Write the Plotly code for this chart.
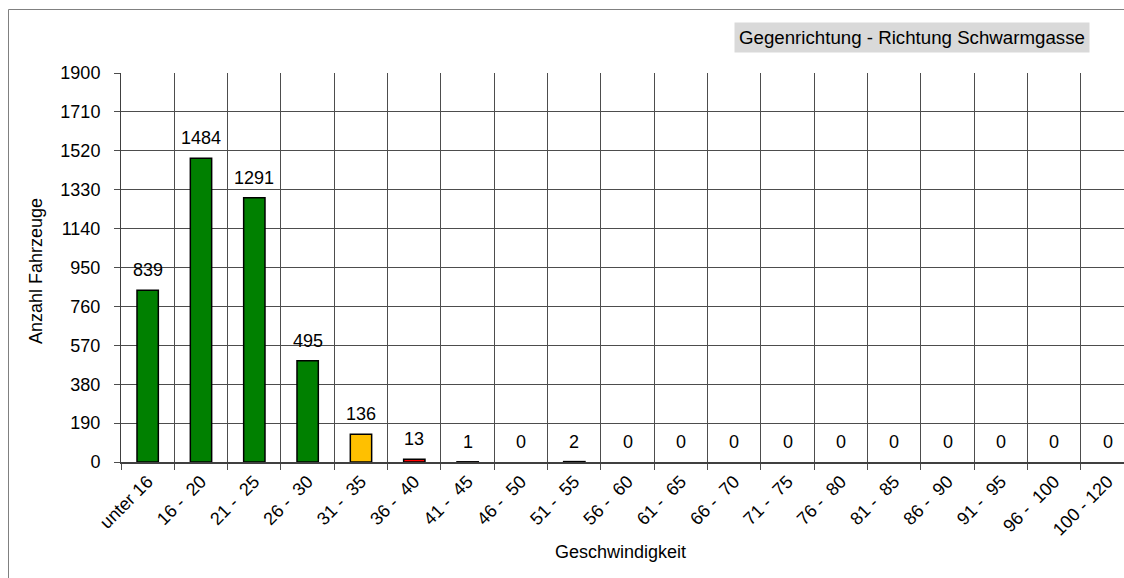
import plotly.graph_objects as go

categories = ["unter 16", "16 -  20", "21 -  25", "26 -  30", "31 -  35", "36 -  40",
              "41 -  45", "46 -  50", "51 -  55", "56 -  60", "61 -  65", "66 -  70",
              "71 -  75", "76 -  80", "81 -  85", "86 -  90", "91 -  95", "96 -  100",
              "100 - 120"]
values = [839, 1484, 1291, 495, 136, 13, 1, 0, 2, 0, 0, 0, 0, 0, 0, 0, 0, 0, 0]
bar_colors = ["#008000"] * 4 + ["#FFC000"] + ["#FF0000"] * 14
y_ticks = [0, 190, 380, 570, 760, 950, 1140, 1330, 1520, 1710, 1900]
title_text = "Gegenrichtung - Richtung Schwarmgasse"
x_title = "Geschwindigkeit"
y_title = "Anzahl Fahrzeuge"

cats = [c.replace("  ", " \u00a0") for c in categories]
line_widths = [1.5 if v > 0 else 0 for v in values]

W, H = 1124, 578
L, T = 121, 73
BOTTOM = 462
B = H - BOTTOM
R = 0
pw, ph = W - L - R, H - T - B
cat_px = 53.33

FONT = "Liberation Sans, Arial, sans-serif"
FS = 18

def px_x(x):  # pixel -> paper
    return (x - L) / pw

def px_y(y):
    return (BOTTOM - y) / ph

fig = go.Figure()
fig.add_trace(go.Bar(
    x=cats, y=values, width=0.4,
    marker=dict(color=bar_colors, line=dict(color="black", width=line_widths)),
    hoverinfo="x+y",
))

annotations = []
for c, v in zip(cats, values):
    annotations.append(dict(x=c, y=v, xref="x", yref="y", text=str(v), showarrow=False,
                            yanchor="middle", yshift=20, font=dict(size=FS, color="black", family=FONT)))

annotations.append(dict(x=px_x(912), y=px_y(37.5), xref="paper", yref="paper", text=title_text,
                        showarrow=False, bgcolor="#d9d9d9", borderpad=4,
                        font=dict(size=18.7, color="black", family=FONT), xanchor="center", yanchor="middle"))
annotations.append(dict(x=px_x(620), y=px_y(552), xref="paper", yref="paper", text=x_title,
                        showarrow=False, font=dict(size=FS, color="black", family=FONT),
                        xanchor="center", yanchor="middle"))
annotations.append(dict(x=px_x(36), y=px_y(271), xref="paper", yref="paper", text=y_title,
                        showarrow=False, textangle=-90, font=dict(size=FS, color="black", family=FONT),
                        xanchor="center", yanchor="middle"))

border = dict(color="#808080", width=1)
shapes = [
    dict(type="line", xref="paper", yref="paper", x0=px_x(8.5), x1=px_x(1124), y0=px_y(9.5), y1=px_y(9.5),
         line=border, layer="below"),
    dict(type="line", xref="paper", yref="paper", x0=px_x(8.5), x1=px_x(8.5), y0=px_y(9.5), y1=px_y(578),
         line=border, layer="below"),
]

fig.update_layout(
    width=W, height=H,
    margin=dict(l=L, r=R, t=T, b=B, pad=0),
    paper_bgcolor="white", plot_bgcolor="white",
    font=dict(family=FONT, size=FS, color="black"),
    showlegend=False,
    annotations=annotations,
    shapes=shapes,
    bargap=0.6,
)
fig.update_xaxes(
    type="category",
    range=[-0.5, -0.5 + pw / cat_px],
    tickson="boundaries",
    showgrid=True, gridcolor="#4d4d4d", gridwidth=1,
    ticks="outside", ticklen=6, tickcolor="#4d4d4d", tickwidth=1,
    tickangle=-45,
    tickfont=dict(size=FS, family=FONT, color="black"),
    showline=True, linecolor="#404040", linewidth=2,
    zeroline=False,
)
fig.update_yaxes(
    range=[0, 1900],
    tickvals=y_ticks,
    showgrid=True, gridcolor="#4d4d4d", gridwidth=1,
    ticks="outside", ticklen=6, tickcolor="#4d4d4d", tickwidth=1,
    tickfont=dict(size=FS, family=FONT, color="black"),
    ticklabelstandoff=10,
    showline=True, linecolor="#404040", linewidth=1,
    zeroline=False,
)

post = ("document.body.style.margin='0';document.body.style.padding='0';"
        "document.body.style.overflow='hidden';document.documentElement.style.overflow='hidden';")
fig.write_html("out.html", post_script=post, config={"displayModeBar": False})
